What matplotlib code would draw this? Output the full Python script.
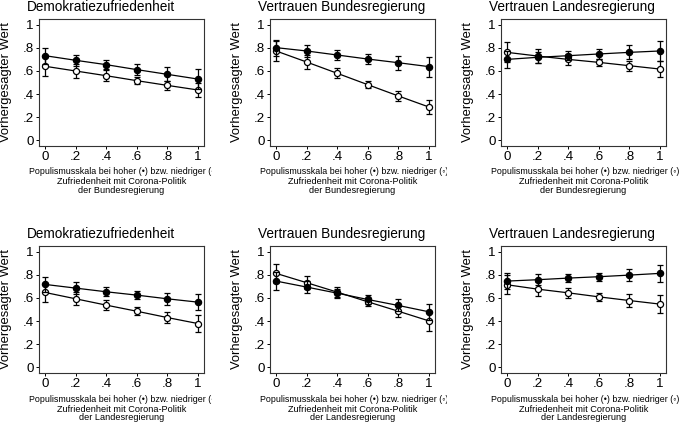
import numpy as np
import matplotlib
matplotlib.use("Agg")
import matplotlib.pyplot as plt
from matplotlib.transforms import Bbox, TransformedBbox

plt.rcParams['font.family'] = ['Liberation Sans', 'DejaVu Sans']

# populism scale values
x_vals = [0, 0.2, 0.4, 0.6, 0.8, 1.0]
x_ticklabels = ['0', '.2', '.4', '.6', '.8', '1']
y_ticklabels = ['0', '.2', '.4', '.6', '.8', '1']

titles = ['Demokratiezufriedenheit', 'Vertrauen Bundesregierung', 'Vertrauen Landesregierung',
          'Demokratiezufriedenheit', 'Vertrauen Bundesregierung', 'Vertrauen Landesregierung']
row_govs = ['der Bundesregierung', 'der Landesregierung']

# predicted values, high satisfaction (filled) and low satisfaction (hollow)
high_vals = [
    [0.733, 0.693, 0.655, 0.612, 0.571, 0.530],
    [0.803, 0.774, 0.739, 0.704, 0.672, 0.638],
    [0.701, 0.719, 0.733, 0.748, 0.762, 0.774],
    [0.718, 0.686, 0.654, 0.625, 0.593, 0.564],
    [0.747, 0.695, 0.642, 0.587, 0.535, 0.480],
    [0.747, 0.759, 0.773, 0.785, 0.799, 0.814],
]
high_ci = [
    [0.070, 0.050, 0.040, 0.045, 0.060, 0.085],
    [0.070, 0.050, 0.040, 0.047, 0.060, 0.087],
    [0.072, 0.050, 0.040, 0.045, 0.060, 0.087],
    [0.067, 0.050, 0.038, 0.035, 0.052, 0.070],
    [0.076, 0.053, 0.040, 0.038, 0.052, 0.072],
    [0.070, 0.050, 0.038, 0.035, 0.052, 0.072],
]
low_vals = [
    [0.641, 0.600, 0.559, 0.516, 0.475, 0.435],
    [0.774, 0.678, 0.580, 0.481, 0.383, 0.287],
    [0.762, 0.730, 0.701, 0.675, 0.646, 0.617],
    [0.648, 0.593, 0.538, 0.485, 0.430, 0.378],
    [0.814, 0.733, 0.651, 0.567, 0.485, 0.401],
    [0.715, 0.677, 0.645, 0.610, 0.578, 0.547],
]
low_ci = [
    [0.085, 0.064, 0.046, 0.032, 0.040, 0.064],
    [0.085, 0.064, 0.045, 0.032, 0.040, 0.064],
    [0.087, 0.064, 0.046, 0.032, 0.042, 0.066],
    [0.084, 0.058, 0.044, 0.037, 0.046, 0.073],
    [0.084, 0.058, 0.044, 0.037, 0.046, 0.084],
    [0.084, 0.058, 0.044, 0.037, 0.055, 0.076],
]

W, H = 685, 422
fig = plt.figure(figsize=(W / 100, H / 100), dpi=100)

col_left = [39, 270, 501]
row_top = [19, 246]
ax_w, ax_h = 165, 127
clip_right = [212, 447, 685]

for i in range(6):
    r, c = divmod(i, 3)
    x0, y0 = col_left[c], row_top[r]
    ax = fig.add_axes([x0 / W, 1 - (y0 + ax_h) / H, ax_w / W, ax_h / H])

    ax.errorbar(x_vals, low_vals[i], yerr=low_ci[i], color='black', lw=0.9,
                marker='o', ms=4.4, mfc='white', mec='black', mew=0.9,
                capsize=2.3, elinewidth=0.9, capthick=0.9, zorder=2)
    ax.errorbar(x_vals, high_vals[i], yerr=high_ci[i], color='black', lw=0.9,
                marker='o', ms=4.4, mfc='black', mec='black',
                capsize=2.3, elinewidth=0.9, capthick=0.9, zorder=3)

    ax.set_xlim(-0.04, 1.04)
    ax.set_ylim(-0.052, 1.052)
    ax.set_xticks(x_vals)
    ax.set_xticklabels(x_ticklabels, fontsize=9.6)
    ax.set_yticks(x_vals)
    ax.set_yticklabels(y_ticklabels, fontsize=9.6)
    ax.tick_params(direction='out', length=2.5, width=0.7, pad=1.2, right=False, top=False)
    for sp in ax.spines.values():
        sp.set_linewidth(0.8)
        sp.set_color('#333333')

    # y label
    fig.text((x0 - 33) / W, 1 - (y0 + 63) / H, 'Vorhergesagter Wert', rotation=90,
             ha='center', va='center', fontsize=9.4)
    # title
    fig.text((x0 - 12) / W, 1 - (y0 - 8) / H, titles[i], ha='left', va='baseline',
             fontsize=9.8)

    # x label lines (first line is cut at the panel edge, as in the original)
    cx = x0 + ax_w / 2
    t = fig.text((cx + 2) / W, 1 - (y0 + ax_h + 26) / H,
                 'Populismusskala bei hoher (\u2022) bzw. niedriger (\u25e6)',
                 ha='center', va='center', fontsize=6.4)
    clip = TransformedBbox(Bbox([[0, 0], [clip_right[c] / W, 1]]), fig.transFigure)
    t.set_clip_box(clip)
    t.set_clip_on(True)
    fig.text(cx / W, 1 - (y0 + ax_h + 36) / H, 'Zufriedenheit mit Corona-Politik',
             ha='center', va='center', fontsize=6.6)
    fig.text(cx / W, 1 - (y0 + ax_h + 45) / H, row_govs[r],
             ha='center', va='center', fontsize=6.6)

fig.savefig('out.png', dpi=100)
